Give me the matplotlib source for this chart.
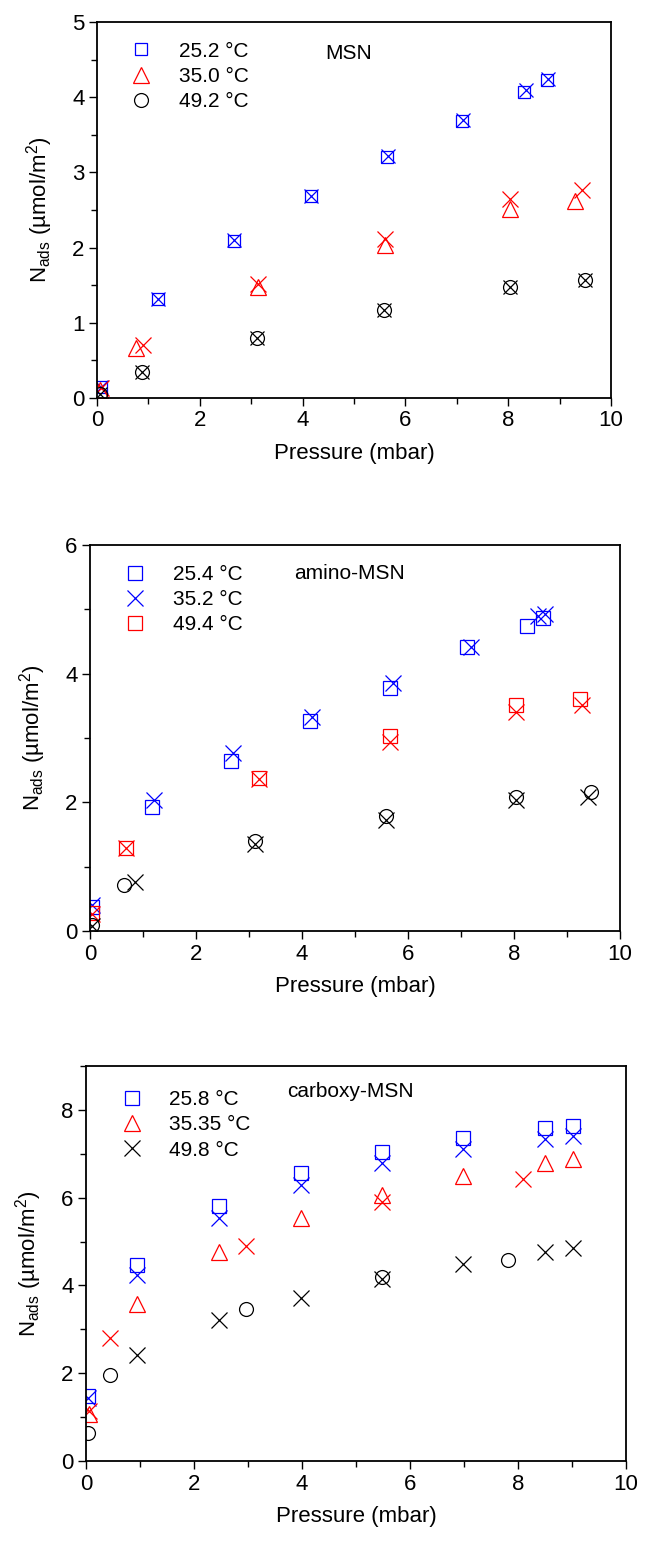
import numpy as np
import matplotlib
matplotlib.use("Agg")
from matplotlib import pyplot as plt
from matplotlib.lines import Line2D
from matplotlib.ticker import MultipleLocator

plt.rcParams['font.family'] = ['Liberation Sans', 'DejaVu Sans']
plt.rcParams['mathtext.fontset'] = 'custom'
plt.rcParams['mathtext.rm'] = 'Liberation Sans'
plt.rcParams['font.size'] = 15

BLUE = '#0000ff'
RED = '#ff0000'
BLACK = '#000000'

# --- MSN ---
msn_p_25 = [0.07, 1.18, 2.66, 4.16, 5.65, 7.11, 8.30, 8.76]
msn_n_25 = [0.15, 1.31, 2.09, 2.69, 3.21, 3.69, 4.07, 4.23]
msn_p_25x = [0.07, 1.18, 2.66, 4.16, 5.66, 7.12, 8.34, 8.78]
msn_n_25x = [0.15, 1.31, 2.10, 2.69, 3.22, 3.70, 4.09, 4.24]
msn_p_35 = [0.05, 0.75, 3.14, 5.61, 8.03, 9.30]
msn_n_35 = [0.10, 0.66, 1.47, 2.04, 2.51, 2.62]
msn_p_35x = [0.07, 0.89, 3.14, 5.61, 8.03, 9.44]
msn_n_35x = [0.13, 0.71, 1.51, 2.12, 2.64, 2.77]
msn_p_49 = [0.05, 0.88, 3.12, 5.58, 8.03, 9.49]
msn_n_49 = [0.05, 0.35, 0.80, 1.17, 1.48, 1.57]
msn_labels = ['25.2 °C', '35.0 °C', '49.2 °C']

# --- amino-MSN ---
am_p_25 = [0.03, 1.17, 2.66, 4.16, 5.66, 7.11, 8.24, 8.54]
am_n_25 = [0.38, 1.92, 2.64, 3.26, 3.78, 4.41, 4.74, 4.87]
am_p_35 = [0.03, 1.20, 2.69, 4.19, 5.72, 7.18, 8.45, 8.59]
am_n_35 = [0.41, 2.03, 2.77, 3.33, 3.86, 4.42, 4.90, 4.93]
am_p_49 = [0.03, 0.67, 3.18, 5.66, 8.03, 9.24]
am_n_49 = [0.28, 1.29, 2.38, 3.03, 3.51, 3.61]
am_p_49x = [0.03, 0.67, 3.18, 5.66, 8.03, 9.29]
am_n_49x = [0.26, 1.29, 2.36, 2.94, 3.41, 3.51]
am_p_blk = [0.03, 0.64, 3.12, 5.59, 8.03, 9.46]
am_n_blk = [0.09, 0.72, 1.40, 1.79, 2.09, 2.16]
am_p_blkx = [0.03, 0.84, 3.12, 5.59, 8.03, 9.39]
am_n_blkx = [0.08, 0.76, 1.36, 1.72, 2.03, 2.08]
am_labels = ['25.4 °C', '35.2 °C', '49.4 °C']

# --- carboxy-MSN ---
cx_p_25 = [0.03, 0.94, 2.46, 3.98, 5.48, 6.98, 8.50, 9.01]
cx_n_25 = [1.48, 4.47, 5.80, 6.56, 7.05, 7.36, 7.59, 7.63]
cx_n_25x = [1.44, 4.23, 5.53, 6.29, 6.78, 7.10, 7.33, 7.41]
cx_p_35 = [0.05, 0.94, 2.46, 3.98, 5.48, 6.98, 8.50, 9.01]
cx_n_35 = [1.08, 3.57, 4.77, 5.53, 6.07, 6.50, 6.80, 6.88]
cx_p_35x = [0.05, 0.44, 2.97, 5.48, 8.09]
cx_n_35x = [1.14, 2.80, 4.90, 5.89, 6.43]
cx_p_49x = [0.94, 2.46, 3.98, 5.48, 6.98, 8.50, 9.01]
cx_n_49x = [2.42, 3.21, 3.72, 4.14, 4.49, 4.77, 4.86]
cx_p_49 = [0.03, 0.44, 2.97, 5.48, 7.82]
cx_n_49 = [0.63, 1.97, 3.47, 4.19, 4.58]
cx_labels = ['25.8 °C', '35.35 °C', '49.8 °C']

W, H = 645, 1542
fig = plt.figure(figsize=(W / 100, H / 100), dpi=100)


def make_axes(l, r, t, b):
    return fig.add_axes([l / W, 1 - b / H, (r - l) / W, (b - t) / H])


def pts(ax, x, y, marker, color, size=10):
    ax.plot(x, y, linestyle='none', marker=marker, markersize=size, clip_on=True,
            markerfacecolor='none', markeredgecolor=color, markeredgewidth=0.9)


def style(ax, ymax, ymajor, yminor, title, title_y):
    ax.set_xlim(0, 10)
    ax.set_ylim(0, ymax)
    ax.xaxis.set_major_locator(MultipleLocator(2))
    ax.xaxis.set_minor_locator(MultipleLocator(1))
    ax.yaxis.set_major_locator(MultipleLocator(ymajor))
    ax.yaxis.set_minor_locator(MultipleLocator(yminor))
    ax.tick_params(which='both', direction='out', top=False, right=False, width=1.0)
    ax.tick_params(which='major', length=6, labelsize=16, pad=3)
    ax.tick_params(which='minor', length=4)
    for s in ax.spines.values():
        s.set_linewidth(1.3)
    ax.set_xlabel('Pressure (mbar)', fontsize=16, labelpad=8)
    ax.set_ylabel(r'N$_\mathregular{ads}$ (µmol/m$^\mathregular{2}$)', fontsize=16, labelpad=12)
    ax.text(0.49, title_y, title, transform=ax.transAxes, ha='center', va='center', fontsize=15)


def legend(ax, handles, labels, y0):
    ax.legend(handles, labels, loc='upper left', bbox_to_anchor=(0.05, y0), frameon=False,
              handlelength=1.0, handletextpad=1.3, labelspacing=0.3, fontsize=15,
              borderaxespad=0)


def h(marker, color, size=10):
    return Line2D([], [], linestyle='none', marker=marker, markersize=size,
                  markerfacecolor='none', markeredgecolor=color, markeredgewidth=0.9)


# panel 1: MSN
ax1 = make_axes(97, 611, 22, 398)
pts(ax1, msn_p_25, msn_n_25, 's', BLUE, 9)
pts(ax1, msn_p_25x, msn_n_25x, 'x', BLUE, 10)
pts(ax1, msn_p_35, msn_n_35, '^', RED, 11)
pts(ax1, msn_p_35x, msn_n_35x, 'x', RED, 12)
pts(ax1, msn_p_49, msn_n_49, 'o', BLACK, 10)
pts(ax1, msn_p_49, msn_n_49, 'x', BLACK, 10)
style(ax1, 5, 1, 0.5, 'MSN', 0.915)
legend(ax1, [h('s', BLUE, 9), h('^', RED, 11), h('o', BLACK, 10)], msn_labels, 0.97)

# panel 2: amino-MSN
ax2 = make_axes(90, 620, 545, 931)
pts(ax2, am_p_25, am_n_25, 's', BLUE, 10)
pts(ax2, am_p_35, am_n_35, 'x', BLUE, 12)
pts(ax2, am_p_49, am_n_49, 's', RED, 10)
pts(ax2, am_p_49x, am_n_49x, 'x', RED, 12)
pts(ax2, am_p_blk, am_n_blk, 'o', BLACK, 10)
pts(ax2, am_p_blkx, am_n_blkx, 'x', BLACK, 12)
style(ax2, 6, 2, 1, 'amino-MSN', 0.925)
legend(ax2, [h('s', BLUE, 10), h('x', BLUE, 12), h('s', RED, 10)], am_labels, 0.97)

# panel 3: carboxy-MSN
ax3 = make_axes(86, 626, 1066, 1461)
pts(ax3, cx_p_25, cx_n_25, 's', BLUE, 10)
pts(ax3, cx_p_25, cx_n_25x, 'x', BLUE, 12)
pts(ax3, cx_p_35, cx_n_35, '^', RED, 11)
pts(ax3, cx_p_35x, cx_n_35x, 'x', RED, 12)
pts(ax3, cx_p_49x, cx_n_49x, 'x', BLACK, 12)
pts(ax3, cx_p_49, cx_n_49, 'o', BLACK, 10)
style(ax3, 9, 2, 1, 'carboxy-MSN', 0.935)
legend(ax3, [h('s', BLUE, 10), h('^', RED, 11), h('x', BLACK, 12)], cx_labels, 0.96)

fig.savefig('out.png', dpi=100)
